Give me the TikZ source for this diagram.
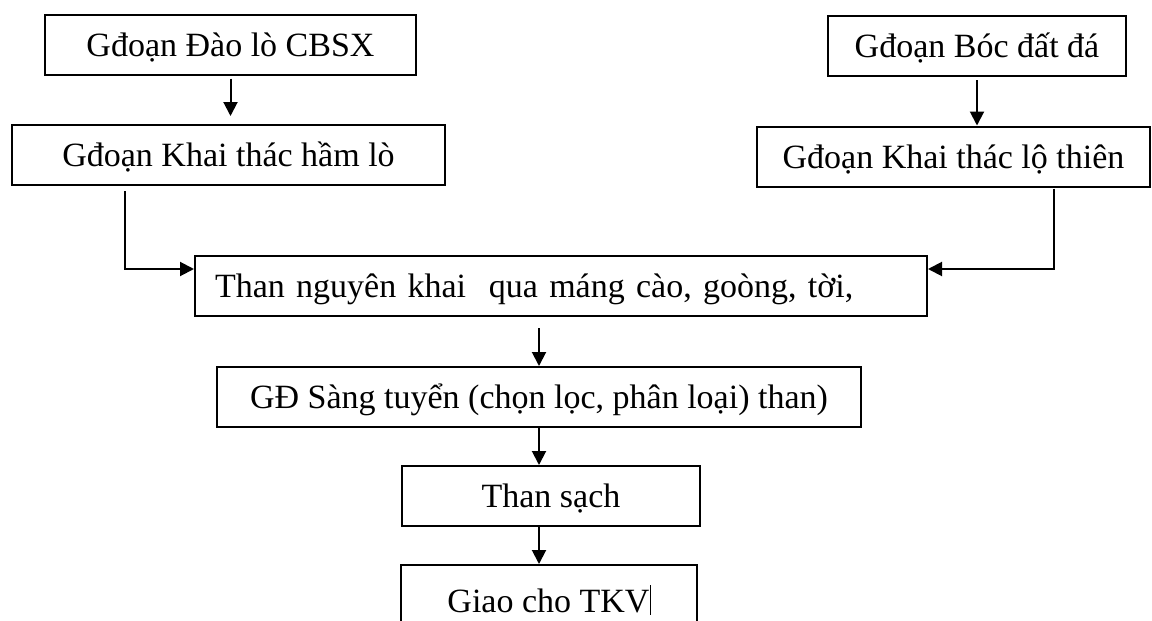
\documentclass[tikz,border=0pt]{standalone}
\usepackage{fontspec}
\setmainfont{Liberation Serif}
\usetikzlibrary{arrows.meta}

\begin{document}
\begin{tikzpicture}[
  x=0.5pt, y=-0.5pt,
  box/.style={draw, line width=1pt, inner sep=0pt, minimum height=30pt,
    font=\fontsize{17pt}{20pt}\selectfont, text height=11.5pt, text depth=0pt},
  arr/.style={line width=1pt, -{Triangle[length=7pt,width=7pt]}}
]
\useasboundingbox (0,0) rectangle (1152,621);
\clip (0,0) rectangle (1152,621);

% two mining branches
\node[box, minimum width=185.5pt] (b1) at (230.5,44.5) {Gđoạn Đào lò CBSX};
\node[box, minimum width=216.5pt] (b2) at (228.5,155) {Gđoạn Khai thác hầm lò};
\node[box, minimum width=149pt]   (b3) at (977,46) {Gđoạn Bóc đất đá};
\node[box, minimum width=196.5pt] (b4) at (953.5,156.5) {Gđoạn Khai thác lộ thiên};

% merged flow
\node[box, text width=346pt, inner xsep=10pt, align=left] (b5) at (561,286)
  {Than nguyên khai~~qua máng cào, goòng, tời,};
\node[box, minimum width=322pt] (b6) at (539,397) {GĐ Sàng tuyển (chọn lọc, phân loại) than)};
\node[box, minimum width=149pt] (b7) at (551,496) {Than sạch};
\node[box, minimum width=148pt, minimum height=36pt] (b8) at (549,601)
  {Giao cho TKV\rule[-1pt]{0.5pt}{15pt}};

% junction points of the side connectors
\coordinate (lj) at (125,269);
\coordinate (rj) at (1054,269);

\draw[arr, shorten <=1.5pt, shorten >=4pt] (b1.south) -- (b2.north -| b1.south);
\draw[arr, shorten <=1.5pt] (b3.south) -- (b4.north -| b3.south);
\draw[arr, shorten <=2.5pt] (b2.south -| lj) -- (lj) -- (lj -| b5.west);
\draw[arr, shorten <=0.5pt] (b4.south -| rj) -- (rj) -- (rj -| b5.east);
\draw[arr, shorten <=5.5pt] (b5.south -| b6.north) -- (b6.north);
\draw[arr] (b6.south) -- (b7.north -| b6.south);
\draw[arr] (b7.south -| b6.south) -- (b8.north -| b6.south);
\end{tikzpicture}
\end{document}
